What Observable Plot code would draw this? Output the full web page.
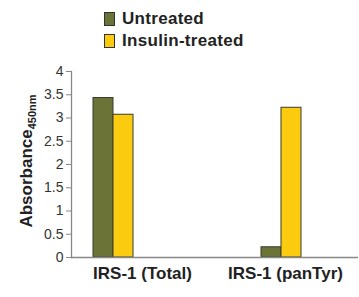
<!DOCTYPE html>
<html>
<head>
<meta charset="utf-8">
<script src="https://cdn.jsdelivr.net/npm/d3@7"></script>
<script src="https://cdn.jsdelivr.net/npm/@observablehq/plot@0.6"></script>
<style>
  html, body { margin: 0; padding: 0; background: #fff; }
  #wrap { position: relative; width: 359px; height: 297px; font-family: "Liberation Sans Narrow", "Liberation Sans", sans-serif; }
  .leg { position: absolute; left: 104px; display: flex; align-items: center; font-weight: bold; font-size: 17px; color: #222; letter-spacing: 0.3px; }
  .sw { width: 9px; height: 12px; border: 1px solid #333; margin-right: 7px; }
</style>
</head>
<body>
<div id="wrap"></div>
<script>
const categories = ["IRS-1 (Total)", "IRS-1 (panTyr)"];
const seriesNames = ["Untreated", "Insulin-treated"];
const untreated = [3.43, 0.22];
const insulin = [3.07, 3.22];
const yTicks = [0, 0.5, 1, 1.5, 2, 2.5, 3, 3.5, 4];
const yTickLabels = ["0", "0.5", "1", "1.5", "2", "2.5", "3", "3.5", "4"];
const colors = ["#6b7436", "#fbcb0f"];

const rows = [];
categories.forEach((c, i) => {
  rows.push({cat: c, series: seriesNames[0], value: untreated[i]});
  rows.push({cat: c, series: seriesNames[1], value: insulin[i]});
});
const labels = categories.map(c => ({cat: c}));

const font = "Liberation Sans Narrow, Liberation Sans, sans-serif";
const plot = Plot.plot({
  width: 359,
  height: 297,
  marginTop: 71,
  marginBottom: 40,
  marginLeft: 71,
  marginRight: 1,
  style: {fontFamily: font, background: "#fff"},
  x: {domain: categories, paddingInner: 0.762, paddingOuter: 0.235, align: 0.278, axis: null},
  y: {domain: [0, 4], axis: null},
  color: {domain: seriesNames, range: colors},
  marks: [
    Plot.barY(rows.filter(d => d.series === seriesNames[0]), {x: "cat", y: "value", fill: "series", stroke: "#3a3a30", strokeWidth: 1, insetRight: 20}),
    Plot.barY(rows.filter(d => d.series === seriesNames[1]), {x: "cat", y: "value", fill: "series", stroke: "#3a3a30", strokeWidth: 1, insetLeft: 20}),
    Plot.ruleY([0], {stroke: "#888", strokeWidth: 1.3}),
    Plot.frame({anchor: "left", stroke: "#888", strokeWidth: 1.3}),
    Plot.axisY({ticks: yTicks, tickFormat: (d) => yTickLabels[yTicks.indexOf(d)], tickSize: 5, tickPadding: 3, fontSize: 14, stroke: "#888", color: "#333", label: null}),
    Plot.text(labels.filter(d => d.cat === categories[0]), {x: "cat", frameAnchor: "bottom", dy: 16, dx: 29, text: "cat", fontSize: 17, fontWeight: "bold", fill: "#222", lineAnchor: "middle"}),
    Plot.text(labels.filter(d => d.cat === categories[1]), {x: "cat", frameAnchor: "bottom", dy: 16, dx: 4, text: "cat", fontSize: 17, fontWeight: "bold", fill: "#222", lineAnchor: "middle"})
  ]
});

const wrap = document.getElementById("wrap");
wrap.appendChild(plot);

// y axis title with subscript
const svg = d3.select(plot);
const t = svg.append("text")
  .attr("transform", "translate(32,161) rotate(-90)")
  .attr("text-anchor", "middle")
  .attr("font-family", font)
  .attr("font-weight", "bold")
  .attr("font-size", 17)
  .attr("fill", "#222");
t.append("tspan").text("Absorbance");
t.append("tspan").attr("font-size", 11).attr("dy", 4).text("450nm");

// legend
seriesNames.forEach((name, i) => {
  const div = document.createElement("div");
  div.className = "leg";
  div.style.top = (9 + i * 22) + "px";
  const sw = document.createElement("div");
  sw.className = "sw";
  sw.style.background = colors[i];
  const tx = document.createElement("span");
  tx.textContent = name;
  div.appendChild(sw);
  div.appendChild(tx);
  wrap.appendChild(div);
});
plot.style.position = "absolute";
plot.style.left = "0";
plot.style.top = "0";
</script>
</body>
</html>
